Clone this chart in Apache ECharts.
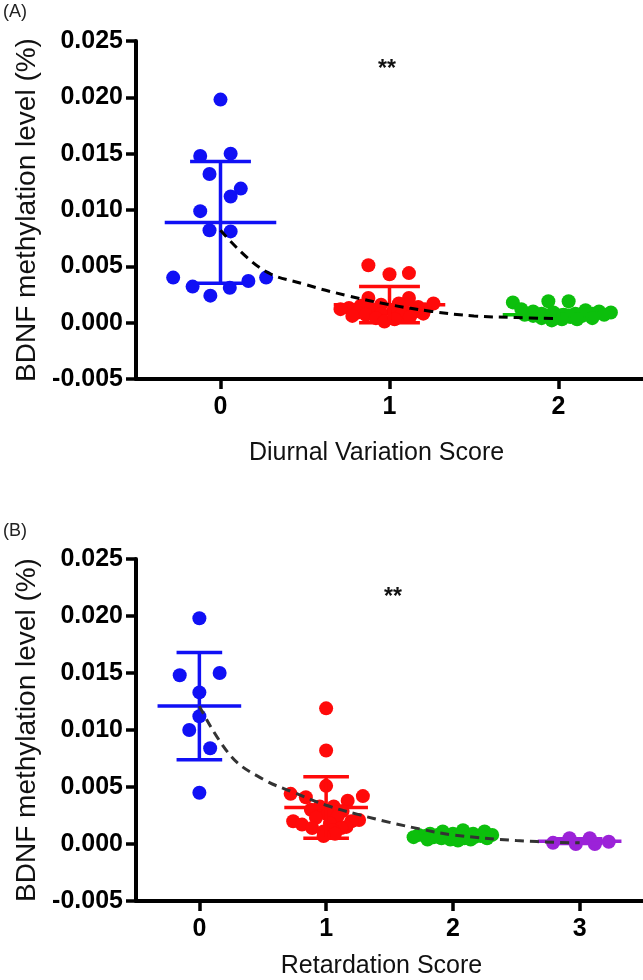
<!DOCTYPE html>
<html>
<head>
<meta charset="utf-8">
<script src="https://cdn.jsdelivr.net/npm/echarts@6/dist/echarts.min.js"></script>
<style>html,body{margin:0;padding:0;background:#fff}#c{width:643px;height:980px}</style>
</head>
<body>
<div id="c"></div>
<script>
// ---------- DATA ----------
// Panel A: Diurnal Variation Score
const aCategories = [0, 1, 2];
const aS0Vals = [0.0198,0.0148,0.0150,0.0132,0.0119,0.0112,0.0099,0.0082,0.0081,0.0040,0.0040,0.0037,0.0032,0.0031,0.0024];
const aS0Jit  = [0,-0.12,0.06,-0.065,0.12,0.06,-0.12,-0.065,0.06,-0.28,0.27,0.165,-0.165,0.055,-0.06];
const aS1Vals = [0.0051,0.0043,0.0044,0.0022,0.0022,0.0017,0.0017,0.0016,0.0015,0.0014,0.0013,0.0012,0.0012,0.0011,0.0010,0.0010,0.0009,0.0009,0.0008,0.0008,0.0007,0.0007,0.0006,0.0005,0.0004,0.0003,0.0001];
const aS1Jit  = [-0.125,0,0.115,-0.125,0.115,0.055,0.26,-0.05,-0.17,0.17,-0.24,-0.29,0.21,-0.11,0.02,0.09,-0.19,0.14,-0.05,0.20,-0.14,0.07,-0.22,0.12,-0.08,0.03,-0.03];
const aS2Vals = [0.0018,0.0019,0.0019,0.0012,0.0011,0.0010,0.0010,0.0009,0.0009,0.0008,0.0008,0.0008,0.0007,0.0007,0.0007,0.0006,0.0006,0.0006,0.0005,0.0005,0.0004,0.0004,0.0003,0.0003,0.0002];
const aS2Jit  = [-0.27,-0.06,0.06,-0.22,0.16,-0.15,0.24,0.31,-0.03,0.10,-0.10,0.20,-0.20,0.03,0.27,-0.07,0.14,-0.15,0.07,-0.02,0.20,-0.10,0.02,0.11,-0.04];
const aMeans = [0.0089, 0.0016, 0.0007];
const aSDs   = [0.0054, 0.0016, 0.0004];
const aCurveX = [0,0.25,0.5,0.75,1,1.25,1.5,1.75,2];
const aCurveY = [0.0082,0.0047,0.0034,0.0024,0.0016,0.0010,0.0006,0.00045,0.00035];

// Panel B: Retardation Score
const bCategories = [0, 1, 2, 3];
const bS0Vals = [0.0198,0.0148,0.0150,0.0133,0.0112,0.0100,0.0084,0.0045];
const bS0Jit  = [0,-0.155,0.16,0,0,-0.08,0.085,0];
const bS1Vals = [0.0119,0.0082,0.0051,0.0044,0.0041,0.0042,0.0038,0.0033,0.0033,0.0030,0.0029,0.0026,0.0024,0.0023,0.0021,0.0020,0.0020,0.0018,0.0017,0.0015,0.0014,0.0014,0.0012,0.0011,0.0009,0.0007];
const bS1Jit  = [0,0,0,-0.28,-0.16,0.29,0.17,-0.05,0.06,-0.12,0.13,0.01,0.09,-0.08,0.26,-0.26,0.20,0.03,-0.19,0.16,-0.11,0.12,0.05,-0.02,0.07,-0.02];
const bS2Vals = [0.0011,0.0012,0.0011,0.0009,0.0009,0.0009,0.0008,0.0008,0.0008,0.0007,0.0007,0.0007,0.0007,0.0006,0.0006,0.0006,0.0006,0.0005,0.0005,0.0005,0.0004,0.0004,0.0004,0.0003];
const bS2Jit  = [-0.08,0.08,0.25,-0.18,0.16,0,-0.27,0.31,-0.12,0.12,-0.04,0.22,-0.22,0.04,-0.15,0.17,-0.31,0.09,-0.09,0.27,-0.02,-0.2,0.14,0.04];
const bS3Vals = [0.0001,0.0005,0.0000,0.0005,0.0000,0.0002];
const bS3Jit  = [-0.21,-0.08,-0.03,0.08,0.12,0.23];
const bMeans = [0.0121, 0.0032, 0.0007, 0.00025];
const bSDs   = [0.0047, 0.0027, 0.0002, 0.0002];
const bCurveX = [0,0.25,0.5,0.75,1,1.25,1.5,1.75,2,2.5,3];
const bCurveY = [0.0121,0.0077,0.0057,0.0045,0.0034,0.0026,0.0019,0.0013,0.0008,0.0003,0.0001];

const yTickMin = -0.005, yTickMax = 0.025, yTickStep = 0.005;
const yAxisTitle = 'BDNF methylation level (%)';
const aXTitle = 'Diurnal Variation Score';
const bXTitle = 'Retardation Score';
const sigMark = '**';

// ---------- STYLE ----------
const COLORS = ['#1010F5', '#FF0A0A', '#0CBF0C', '#9B22D8'];
const FONT = '"Liberation Sans", Arial, sans-serif';
const MEAN_HW = 0.33, CAP_HW = 0.18;

function scatterSeries(cat, vals, jit, color, idx) {
  return {
    type: 'scatter', xAxisIndex: idx, yAxisIndex: idx,
    symbol: 'circle', symbolSize: 14, z: 2,
    itemStyle: { color: color, opacity: 1 },
    data: vals.map((v, i) => [cat + jit[i], v]),
    silent: true, animation: false
  };
}
function errSeries(cats, means, sds, idx) {
  return {
    type: 'custom', xAxisIndex: idx, yAxisIndex: idx, z: 5,
    data: cats.map((c, i) => [c, means[i], sds[i], i]),
    renderItem: function (params, api) {
      const x = api.value(0), m = api.value(1), s = api.value(2), k = api.value(3);
      const col = COLORS[k];
      const st = { stroke: col, lineWidth: 3.5 };
      const L = (a, b) => ({ type: 'line', shape: { x1: a[0], y1: a[1], x2: b[0], y2: b[1] }, style: st });
      return { type: 'group', children: [
        L(api.coord([x - MEAN_HW, m]), api.coord([x + MEAN_HW, m])),
        L(api.coord([x, m - s]), api.coord([x, m + s])),
        L(api.coord([x - CAP_HW, m + s]), api.coord([x + CAP_HW, m + s])),
        L(api.coord([x - CAP_HW, m - s]), api.coord([x + CAP_HW, m - s]))
      ]};
    },
    silent: true, animation: false
  };
}
function curveSeries(xs, ys, idx, color) {
  return {
    type: 'line', xAxisIndex: idx, yAxisIndex: idx, z: 8,
    smooth: 0.4, symbol: 'none',
    lineStyle: { color: color, width: 3, type: [9, 6] },
    data: xs.map((x, i) => [x, ys[i]]),
    silent: true, animation: false
  };
}
function yAxisCfg(idx, gap) {
  return {
    type: 'value', gridIndex: idx, min: yTickMin, max: yTickMax, interval: yTickStep,
    position: 'left',
    name: yAxisTitle, nameLocation: 'middle', nameGap: gap, nameRotate: 90,
    nameTextStyle: { fontFamily: FONT, fontSize: 28, color: '#111' },
    axisLine: { show: true, onZero: false, lineStyle: { color: '#000', width: 4 } },
    axisTick: { show: true, length: 10, lineStyle: { color: '#000', width: 3.5 } },
    axisLabel: { fontFamily: FONT, fontSize: 25, fontWeight: 'bold', color: '#000', margin: 13,
      formatter: v => v.toFixed(3) },
    splitLine: { show: false }
  };
}
function xAxisCfg(idx, cats, max, title, gap, pad) {
  return {
    type: 'value', gridIndex: idx, min: -0.5, max: max,
    position: 'bottom',
    name: title, nameLocation: 'middle', nameGap: gap,
    nameTextStyle: { fontFamily: FONT, fontSize: 25, color: '#111', padding: pad },
    axisLine: { show: true, onZero: false, lineStyle: { color: '#000', width: 4 } },
    axisTick: { show: true, length: 10, customValues: cats, lineStyle: { color: '#000', width: 3.5 } },
    axisLabel: { fontFamily: FONT, fontSize: 25, fontWeight: 'bold', color: '#000', margin: 16,
      customValues: cats, formatter: v => String(Math.round(v)) },
    splitLine: { show: false }
  };
}

const chart = echarts.init(document.getElementById('c'), null, { renderer: 'canvas' });
chart.setOption({
  backgroundColor: '#fff',
  animation: false,
  grid: [
    { left: 136, top: 41, right: 0, bottom: 601 },
    { left: 136, top: 559, right: -9, bottom: 77 }
  ],
  xAxis: [
    xAxisCfg(0, aCategories, 2.5, aXTitle, 62, [0, 26, 0, 0]),
    xAxisCfg(1, bCategories, 3.5, bXTitle, 53, [0, 16, 0, 0])
  ],
  yAxis: [ yAxisCfg(0, 93), yAxisCfg(1, 93) ],
  graphic: [
    { type: 'text', left: 3, top: 3, style: { text: '(A)', font: '18px ' + FONT, fill: '#222' } },
    { type: 'text', left: 3, top: 522, style: { text: '(B)', font: '18px ' + FONT, fill: '#222' } },
    { type: 'text', x: 387, y: 70, style: { text: sigMark, font: 'bold 23px ' + FONT, fill: '#111', align: 'center', verticalAlign: 'middle' } },
    { type: 'text', x: 393, y: 598, style: { text: sigMark, font: 'bold 23px ' + FONT, fill: '#111', align: 'center', verticalAlign: 'middle' } }
  ],
  series: [
    scatterSeries(aCategories[0], aS0Vals, aS0Jit, COLORS[0], 0),
    scatterSeries(aCategories[1], aS1Vals, aS1Jit, COLORS[1], 0),
    scatterSeries(aCategories[2], aS2Vals, aS2Jit, COLORS[2], 0),
    errSeries(aCategories, aMeans, aSDs, 0),
    curveSeries(aCurveX, aCurveY, 0, '#000'),
    scatterSeries(bCategories[0], bS0Vals, bS0Jit, COLORS[0], 1),
    scatterSeries(bCategories[1], bS1Vals, bS1Jit, COLORS[1], 1),
    scatterSeries(bCategories[2], bS2Vals, bS2Jit, COLORS[2], 1),
    scatterSeries(bCategories[3], bS3Vals, bS3Jit, COLORS[3], 1),
    errSeries(bCategories, bMeans, bSDs, 1),
    curveSeries(bCurveX, bCurveY, 1, '#333')
  ]
});
</script>
</body>
</html>
